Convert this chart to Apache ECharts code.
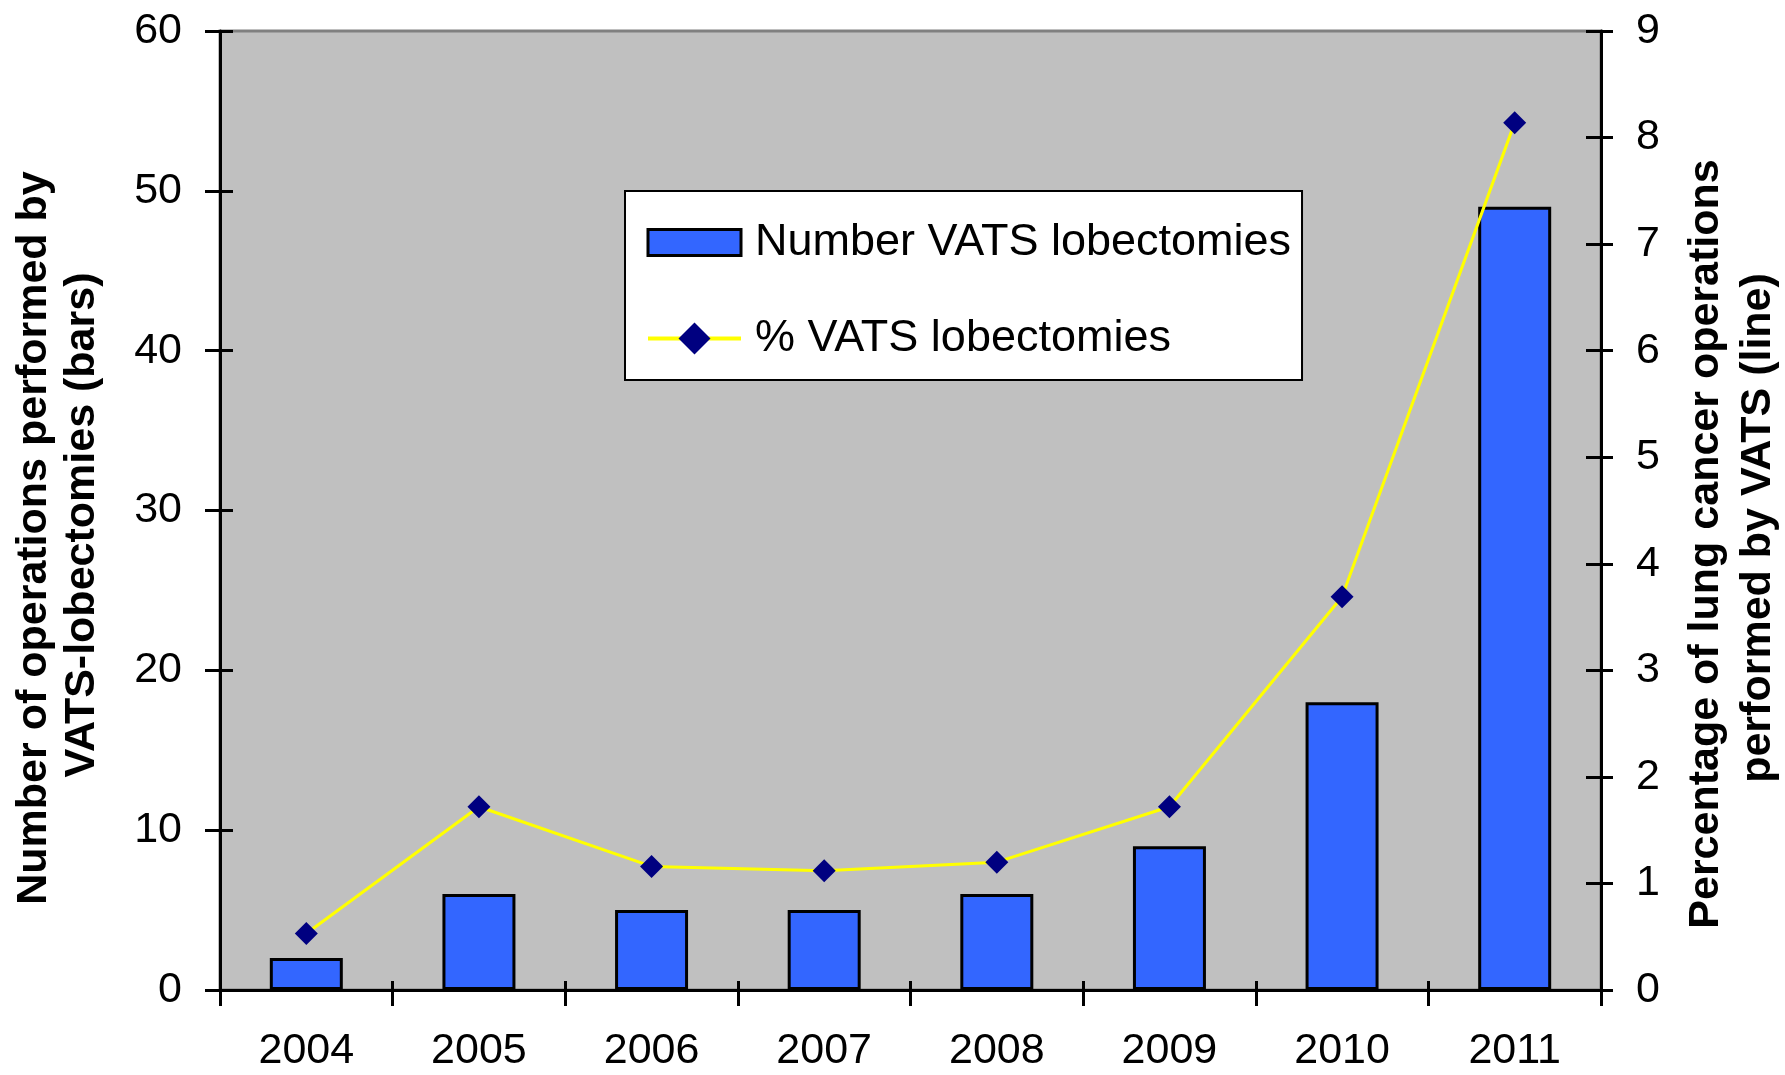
<!DOCTYPE html>
<html>
<head>
<meta charset="utf-8">
<script src="https://cdn.jsdelivr.net/npm/echarts@6/dist/echarts.min.js"></script>
<style>
html, body { margin: 0; padding: 0; background: #fff; }
#chart { width: 1785px; height: 1075px; }
</style>
</head>
<body>
<div id="chart"></div>
<script>
// data
const years = ["2004", "2005", "2006", "2007", "2008", "2009", "2010", "2011"];
const vatsCount = [2, 6, 5, 5, 6, 9, 18, 49];
const vatsPercent = [0.53, 1.72, 1.16, 1.12, 1.2, 1.72, 3.69, 8.14];

const FONT = "'Liberation Sans', Arial, sans-serif";

const chart = echarts.init(document.getElementById("chart"), null, { renderer: "canvas" });

const tickLabel = { color: "#000", fontSize: 43, fontFamily: FONT };
const blackLine = { lineStyle: { color: "#000", width: 3 } };

// bar swatch: 93x26 box inside a 93x40 legend cell (lone move-to points set the bounds)
const barIcon = "path://M0,0 M0,7 L93,7 L93,33 L0,33 Z M93,40";

chart.setOption({
    animation: false,
    backgroundColor: "#fff",
    grid: {
        left: 220, right: 184, top: 31, bottom: 85,
        show: true,
        backgroundColor: "#c0c0c0",
        borderColor: "#808080",
        borderWidth: 3
    },
    legend: {
        orient: "vertical",
        left: 625,
        top: 191,
        padding: [29, 11, 19, 21],
        itemGap: 51,
        itemWidth: 93,
        itemHeight: 40,
        backgroundColor: "#fff",
        borderColor: "#000",
        borderWidth: 2,
        textStyle: { color: "#000", fontSize: 45, fontFamily: FONT, padding: [0, 0, 0, 9] },
        data: [
            { name: "Number VATS lobectomies", icon: barIcon, itemStyle: { borderColor: "#000", borderWidth: 3 } },
            { name: "% VATS lobectomies", lineStyle: { width: 4 } }
        ]
    },
    xAxis: [
        {
            type: "category",
            data: years,
            axisLine: blackLine,
            axisTick: { show: true, length: 16, lineStyle: { color: "#000", width: 3 } },
            axisLabel: Object.assign({ margin: 40 }, tickLabel)
        },
        {
            // inner half of the crossing ticks
            type: "category",
            data: years,
            position: "bottom",
            axisLine: { show: false },
            axisTick: { show: true, inside: true, length: 9, lineStyle: { color: "#000", width: 3 } },
            axisLabel: { show: false }
        }
    ],
    yAxis: [
        {
            type: "value",
            min: 0, max: 60, interval: 10,
            position: "left",
            axisLine: Object.assign({ show: true }, blackLine),
            axisTick: { show: true, length: 15, lineStyle: { color: "#000", width: 3 } },
            axisLabel: Object.assign({ margin: 38 }, tickLabel),
            splitLine: { show: false }
        },
        {
            type: "value",
            min: 0, max: 9, interval: 1,
            position: "right",
            axisLine: Object.assign({ show: true }, blackLine),
            axisTick: { show: true, length: 12, lineStyle: { color: "#000", width: 3 } },
            axisLabel: Object.assign({ margin: 35 }, tickLabel),
            splitLine: { show: false }
        },
        {
            type: "value",
            min: 0, max: 60, interval: 10,
            position: "left",
            axisLine: { show: false },
            axisTick: { show: true, inside: true, length: 13, lineStyle: { color: "#000", width: 3 } },
            axisLabel: { show: false },
            splitLine: { show: false }
        },
        {
            type: "value",
            min: 0, max: 9, interval: 1,
            position: "right",
            axisLine: { show: false },
            axisTick: { show: true, inside: true, length: 15, lineStyle: { color: "#000", width: 3 } },
            axisLabel: { show: false },
            splitLine: { show: false }
        }
    ],
    graphic: [
        {
            type: "text", x: 34, y: 538, rotation: Math.PI / 2,
            style: { text: "Number of operations performed by", fill: "#000", font: "bold 43px " + FONT, align: "center", verticalAlign: "middle" }
        },
        {
            type: "text", x: 82, y: 525, rotation: Math.PI / 2,
            style: { text: "VATS-lobectomies (bars)", fill: "#000", font: "bold 43px " + FONT, align: "center", verticalAlign: "middle" }
        },
        {
            type: "text", x: 1706, y: 544, rotation: Math.PI / 2,
            style: { text: "Percentage of lung cancer operations", fill: "#000", font: "bold 43px " + FONT, align: "center", verticalAlign: "middle" }
        },
        {
            type: "text", x: 1758, y: 528, rotation: Math.PI / 2,
            style: { text: "performed by VATS (line)", fill: "#000", font: "bold 43px " + FONT, align: "center", verticalAlign: "middle" }
        }
    ],
    series: [
        {
            name: "Number VATS lobectomies",
            type: "bar",
            data: vatsCount,
            xAxisIndex: 0,
            yAxisIndex: 0,
            barWidth: 73,
            itemStyle: { color: "#3366ff", borderColor: "#000", borderWidth: 3 }
        },
        {
            name: "% VATS lobectomies",
            type: "line",
            data: vatsPercent,
            xAxisIndex: 0,
            yAxisIndex: 1,
            symbol: "diamond",
            symbolSize: 23,
            lineStyle: { color: "#ffff00", width: 3 },
            itemStyle: { color: "#000080" }
        }
    ]
});
</script>
</body>
</html>
